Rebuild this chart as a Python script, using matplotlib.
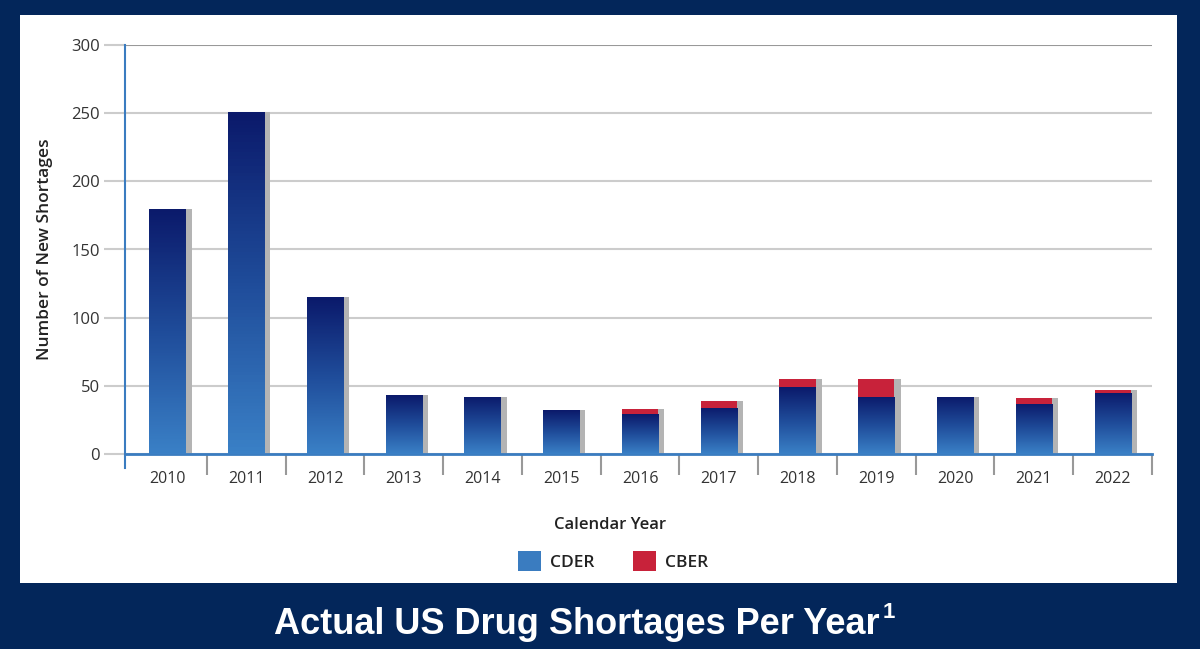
import numpy as np
import matplotlib.pyplot as plt
from matplotlib.patches import Rectangle
from matplotlib.colors import LinearSegmentedColormap

years = ['2010', '2011', '2012', '2013', '2014', '2015', '2016',
         '2017', '2018', '2019', '2020', '2021', '2022']
cder = [180, 251, 115, 43, 42, 32, 29, 34, 49, 42, 42, 37, 45]
cber = [0, 0, 0, 0, 0, 0, 4, 5, 6, 13, 0, 4, 2]

navy = '#03265a'
blue_lt = '#3a80c6'
blue_dk = '#0b1a6b'
red = '#c8223a'
grad = LinearSegmentedColormap.from_list('g', [blue_lt, '#1f4c9a', blue_dk])

plt.rcParams['font.family'] = ['Open Sans', 'DejaVu Sans']

fig = plt.figure(figsize=(12, 6.49), dpi=100, facecolor=navy)
W, H = 1200, 649
fig.patches.append(Rectangle((20 / W, 1 - 583 / H), 1157 / W, 568 / H,
                             transform=fig.transFigure, facecolor='white',
                             edgecolor='none', zorder=-5))

ax = fig.add_axes([125 / W, 1 - 454 / H, 1027 / W, 409 / H])
ax.set_facecolor('none')
ax.set_zorder(2)

n = len(years)
x = np.arange(n)
bw = 0.46
sh = 0.077

for i in range(n):
    c = cder[i]
    t = c + cber[i]
    # shadow
    ax.add_patch(Rectangle((x[i] - bw / 2 + sh, 0), bw, t, facecolor='#b4b4b4',
                           edgecolor='none', zorder=2))
    # gradient body
    rect = Rectangle((x[i] - bw / 2, 0), bw, c, facecolor='none', edgecolor='none', zorder=3)
    ax.add_patch(rect)
    im = ax.imshow(np.linspace(0, 1, 100).reshape(-1, 1), cmap=grad, aspect='auto',
                   extent=(x[i] - bw / 2, x[i] + bw / 2, 0, c), origin='lower', zorder=3)
    im.set_clip_path(rect)
    if cber[i] > 0:
        ax.bar(x[i], cber[i], bw, bottom=c, color=red, zorder=3)

ax.set_xlim(-0.54, n - 0.5)
ax.set_ylim(0, 300)

ax.set_yticks([0, 50, 100, 150, 200, 250, 300])
ax.yaxis.grid(True, color='#cccccc', linewidth=1.5, zorder=1)
ax.set_axisbelow(True)
gl = ax.get_ygridlines()
gl[-1].set_color('#999999')
ax.tick_params(axis='y', length=15, width=1.5, color='#cccccc', labelsize=12,
               labelcolor='#333333', pad=3)
ax.yaxis.get_major_ticks()[-1].tick1line.set_color('#3a7cc0')
ax.yaxis.get_major_ticks()[0].tick1line.set_color('#3a7cc0')

ax.set_xticks(x)
ax.set_xticklabels(years)
ax.set_xticks(np.arange(0.5, n, 1.0), minor=True)
ax.tick_params(axis='x', which='major', length=0, labelsize=11.5, labelcolor='#333333', pad=12)
ax.tick_params(axis='x', which='minor', length=15, width=1.5, color='#999999')

for s in ['top', 'right']:
    ax.spines[s].set_visible(False)
ax.spines['left'].set_color('#3a7cc0')
ax.spines['left'].set_linewidth(1.5)
ax.spines['left'].set_bounds(-10, 300)
ax.spines['bottom'].set_color('#3a7cc0')
ax.spines['bottom'].set_linewidth(2)

ax.set_ylabel('Number of New Shortages', fontsize=12.5, fontweight='semibold',
              color='#222222', labelpad=13)

fig.text(610 / W, 1 - 525 / H, 'Calendar Year', fontsize=12, fontweight='semibold',
         color='#222222', ha='center', va='center')

handles = [Rectangle((0, 0), 1, 1, facecolor='#3a7cc0'), Rectangle((0, 0), 1, 1, facecolor=red)]
fig.legend(handles, ['CDER', 'CBER'], loc='center', bbox_to_anchor=(613 / W, 1 - 561 / H),
           ncol=2, frameon=False, handlelength=1.35, handleheight=1.45,
           columnspacing=2.2, handletextpad=0.5,
           prop={'size': 12.5, 'weight': 'semibold'}, labelcolor='#222222')

title = fig.text(577 / W, 1 - 625 / H, 'Actual US Drug Shortages Per Year', fontsize=26,
                 fontweight='bold', color='white', ha='center', va='center',
                 family='Liberation Sans')
fig.canvas.draw()
bb = title.get_window_extent()
fig.text((bb.x1 + 3) / W, bb.y1 / H + 0.008, '1', fontsize=16, fontweight='bold', color='white',
         ha='left', va='top', family='Liberation Sans')

fig.savefig('out.png', dpi=100, facecolor=navy)
